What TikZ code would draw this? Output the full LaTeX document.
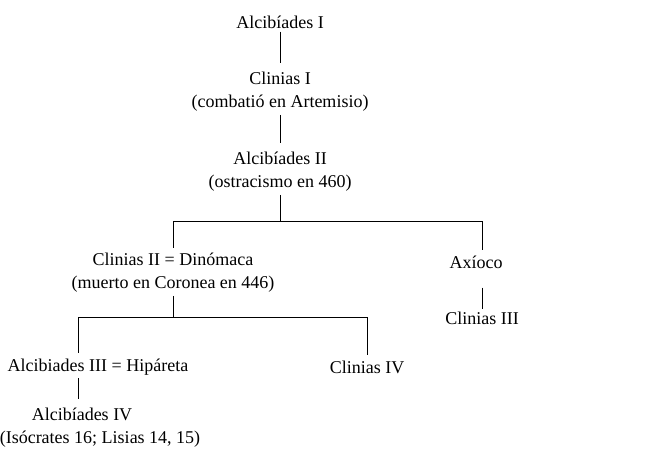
\documentclass[tikz,border=0pt]{standalone}
\usepackage{fontspec}
\setmainfont{Liberation Serif}

\begin{document}
\begin{tikzpicture}[x=0.75pt,y=-0.75pt,line width=0.75pt,
    every node/.style={font=\fontsize{13.5}{17.25}\selectfont, align=center, inner sep=2pt},
    lnk/.style={shorten >=5pt},
    drop/.style={shorten >=2pt}]
        \useasboundingbox (0,0) rectangle (653,455);
        \node (a1) at (280,22) {Alcibíades I};
        \node (c1) at (280,92) {Clinias I\\(combatió en Artemisio)};
        \node (a2) at (280,172) {Alcibíades II\\(ostracismo en 460)};
        \node (c2) at (173,273) {Clinias II = Dinómaca\\(muerto en Coronea en 446)};
        \node (ax) at (476,262) {Axíoco};
        \node (c3) at (482,318) {Clinias III};
        \node (a3) at (98,367) {Alcibiades III = Hipáreta};
        \node (c4) at (367,367) {Clinias IV};
        \node (a4) at (100,428) {Alcibíades IV\hspace*{27pt}\\(Isócrates 16; Lisias 14, 15)};
        \coordinate (j1) at (280,221);
        \coordinate (j2) at (173,317);
        \draw[lnk] (a1.south) -- (c1.north);
        \draw[lnk] (c1.south) -- (a2.north);
        \draw (a2.south) -- (j1);
        \draw[drop] (j1) -| (c2.north);
        \draw[drop] (j1) -| (ax.north -| c3);
        \draw[shorten <=12pt] (ax.south -| c3) -- (c3.north);
        \draw (c2.south) -- (j2);
        \draw[drop] (j2) -| ([xshift=-15pt]a3.north);
        \draw[drop] (j2) -| (c4.north);
        \draw[lnk] ([xshift=-15pt]a3.south) -- ([xshift=-15pt]a3.south |- a4.north);
    \end{tikzpicture}
\end{document}
